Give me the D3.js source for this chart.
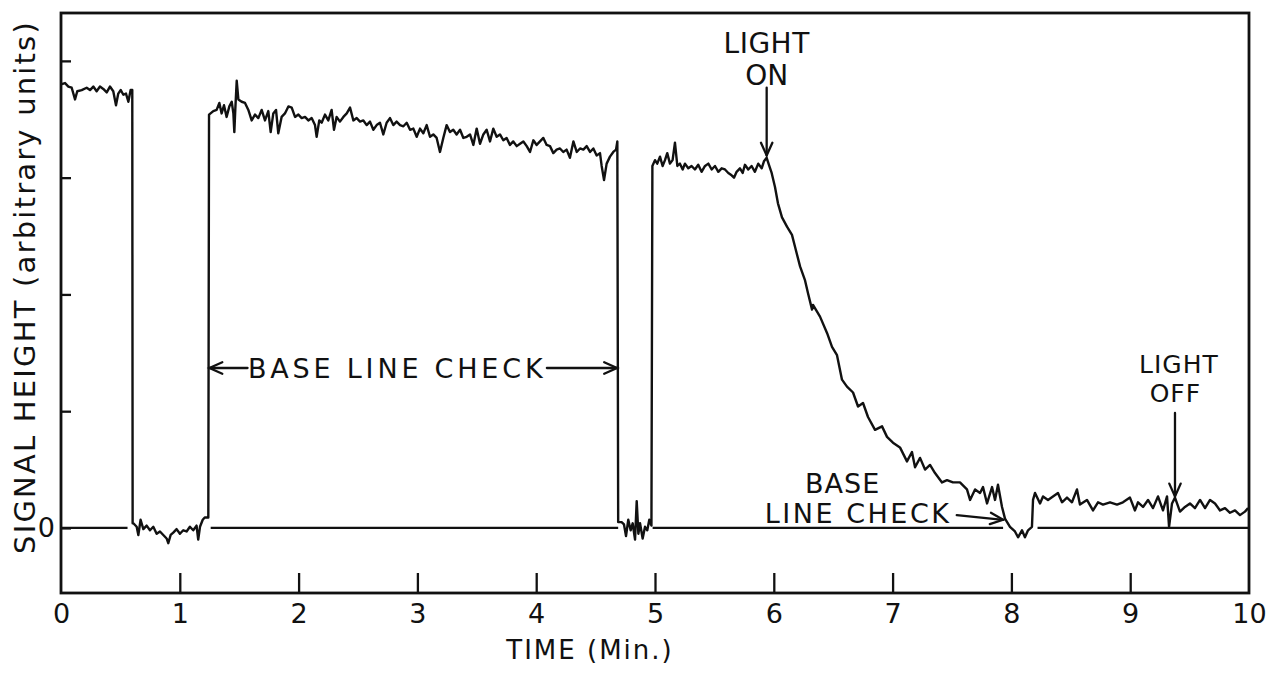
<!DOCTYPE html>
<html>
<head>
<meta charset="utf-8">
<style>
  html, body { margin: 0; padding: 0; background: #fff; }
  svg { display: block; }
  text { font-family: "DejaVu Sans", sans-serif; fill: #111; }
</style>
</head>
<body>
<svg id="chart" width="1272" height="676"></svg>
<script src="https://cdn.jsdelivr.net/npm/d3@7"></script>
<script>
// Recorder trace. Time in minutes, signal in
// the chart's arbitrary units (one y tick = 1 unit).
var timeMin = [
  // light off, full signal
  0.006, 0.034, 0.062, 0.090, 0.118, 0.137, 0.174, 0.216, 0.244, 0.272,
  0.300, 0.328, 0.356, 0.385, 0.412, 0.440, 0.463, 0.482, 0.503, 0.525,
  0.547, 0.567, 0.586, 0.600,
  // first base line check
  0.603, 0.609, 0.637, 0.651, 0.670, 0.693, 0.721, 0.749, 0.777, 0.805,
  0.833, 0.861, 0.889, 0.903, 0.923, 0.945, 0.973, 1.001, 1.029, 1.057,
  1.085, 1.113, 1.141, 1.155, 1.170, 1.193, 1.210, 1.240,
  // slow drift down
  1.246, 1.282, 1.310, 1.333, 1.352, 1.372, 1.394, 1.417, 1.437, 1.451,
  1.459, 1.467, 1.479, 1.493, 1.521, 1.549, 1.577, 1.605, 1.633, 1.661,
  1.689, 1.717, 1.745, 1.765, 1.787, 1.810, 1.829, 1.857, 1.885, 1.914,
  1.942, 1.970, 1.998, 2.026, 2.054, 2.082, 2.110, 2.138, 2.152, 2.174,
  2.194, 2.222, 2.250, 2.278, 2.298, 2.320, 2.348, 2.377, 2.405, 2.433,
  2.461, 2.489, 2.517, 2.545, 2.573, 2.601, 2.629, 2.657, 2.685, 2.713,
  2.741, 2.769, 2.797, 2.825, 2.854, 2.882, 2.910, 2.938, 2.966, 2.994,
  3.022, 3.050, 3.078, 3.106, 3.134, 3.162, 3.190, 3.218, 3.246, 3.274,
  3.302, 3.330, 3.359, 3.387, 3.415, 3.443, 3.471, 3.499, 3.527, 3.555,
  3.583, 3.611, 3.639, 3.667, 3.695, 3.723, 3.751, 3.779, 3.807, 3.836,
  3.864, 3.892, 3.920, 3.948, 3.976, 4.004, 4.032, 4.060, 4.088, 4.116,
  4.144, 4.172, 4.200, 4.228, 4.256, 4.284, 4.313, 4.341, 4.369, 4.397,
  4.425, 4.453, 4.481, 4.509, 4.537, 4.551, 4.571, 4.593, 4.621, 4.649,
  4.672, 4.683,
  // second base line check
  4.690, 4.719, 4.739, 4.756, 4.775, 4.795, 4.812, 4.832, 4.846, 4.860,
  4.874, 4.896, 4.916, 4.935, 4.952, 4.970,
  // before light on
  4.978, 5.000, 5.019, 5.042, 5.064, 5.084, 5.103, 5.126, 5.148, 5.168,
  5.188, 5.210, 5.233, 5.252, 5.280, 5.308, 5.336, 5.364, 5.392, 5.421,
  5.449, 5.477, 5.505, 5.533, 5.561, 5.589, 5.617, 5.645, 5.665, 5.687,
  5.715, 5.738, 5.757, 5.785, 5.813, 5.841, 5.869, 5.898, 5.917, 5.940,
  5.962, 5.982, 6.010,
  // light on, decay
  6.035, 6.069, 6.111, 6.153, 6.178, 6.221, 6.263, 6.288, 6.322, 6.330,
  6.389, 6.448, 6.490, 6.532, 6.574, 6.616, 6.667, 6.709, 6.751, 6.793,
  6.852, 6.911, 6.953, 7.003, 7.062, 7.121, 7.163, 7.189, 7.231, 7.273,
  7.315, 7.357, 7.416, 7.458, 7.508, 7.567, 7.626, 7.652, 7.694, 7.736,
  7.761, 7.795, 7.837, 7.862, 7.887, 7.921, 7.946,
  // third base line check
  7.988, 8.030, 8.056, 8.089, 8.114, 8.140, 8.173,
  // tail
  8.182, 8.199, 8.241, 8.266, 8.308, 8.350, 8.392, 8.426, 8.468, 8.510,
  8.552, 8.577, 8.636, 8.687, 8.729, 8.771, 8.830, 8.889, 8.939, 8.998,
  9.040, 9.066, 9.108, 9.150, 9.192, 9.234, 9.276, 9.310, 9.327, 9.352,
  9.377, 9.419, 9.461, 9.503, 9.545, 9.588, 9.630, 9.672, 9.714, 9.756,
  9.798, 9.840, 9.882, 9.924, 9.966, 9.992
];

var signal = [
  3.80, 3.81, 3.78, 3.77, 3.67, 3.74, 3.75, 3.77, 3.75, 3.78,
  3.74, 3.78, 3.76, 3.73, 3.78, 3.74, 3.62, 3.72, 3.75, 3.71,
  3.72, 3.65, 3.75, 3.75,

  0.04, 0.04, 0.01, -0.06, 0.07, -0.01, 0.02, -0.02, 0.01, -0.05,
  -0.03, -0.06, -0.09, -0.13, -0.06, -0.04, -0.01, -0.05, -0.02, -0.03,
  0.01, -0.02, 0.02, -0.10, 0.01, 0.07, 0.09, 0.09,

  3.54, 3.57, 3.58, 3.64, 3.55, 3.62, 3.52, 3.61, 3.65, 3.55,
  3.39, 3.58, 3.83, 3.67, 3.65, 3.64, 3.58, 3.49, 3.54, 3.51,
  3.58, 3.49, 3.57, 3.39, 3.55, 3.58, 3.38, 3.52, 3.55, 3.61,
  3.60, 3.52, 3.54, 3.51, 3.52, 3.49, 3.51, 3.45, 3.35, 3.49,
  3.47, 3.54, 3.49, 3.58, 3.41, 3.52, 3.48, 3.52, 3.55, 3.60,
  3.49, 3.51, 3.48, 3.49, 3.45, 3.48, 3.41, 3.45, 3.47, 3.37,
  3.47, 3.51, 3.45, 3.48, 3.45, 3.44, 3.47, 3.41, 3.42, 3.35,
  3.42, 3.38, 3.45, 3.35, 3.37, 3.34, 3.22, 3.34, 3.45, 3.39,
  3.41, 3.37, 3.41, 3.34, 3.35, 3.37, 3.28, 3.42, 3.29, 3.37,
  3.41, 3.31, 3.42, 3.35, 3.37, 3.32, 3.34, 3.28, 3.31, 3.27,
  3.29, 3.31, 3.27, 3.22, 3.32, 3.28, 3.31, 3.34, 3.28, 3.27,
  3.21, 3.24, 3.25, 3.22, 3.24, 3.17, 3.31, 3.22, 3.25, 3.24,
  3.27, 3.22, 3.25, 3.19, 3.21, 3.10, 2.98, 3.12, 3.18, 3.22,
  3.24, 3.31,

  0.05, 0.05, 0.03, -0.07, 0.07, -0.02, 0.04, -0.10, 0.23, -0.05,
  0.04, -0.09, 0.01, -0.02, 0.07, 0.02,

  3.10, 3.15, 3.12, 3.18, 3.10, 3.15, 3.21, 3.12, 3.15, 3.30,
  3.10, 3.12, 3.07, 3.12, 3.08, 3.10, 3.07, 3.11, 3.05, 3.10,
  3.12, 3.07, 3.10, 3.05, 3.08, 3.07, 3.04, 3.02, 3.00, 3.05,
  3.08, 3.04, 3.11, 3.07, 3.10, 3.05, 3.12, 3.08, 3.14, 3.17,
  3.10, 3.04, 2.92,

  2.78, 2.66, 2.58, 2.51, 2.41, 2.24, 2.12, 2.01, 1.87, 1.91,
  1.81, 1.67, 1.55, 1.48, 1.27, 1.21, 1.16, 1.04, 1.07, 0.95,
  0.84, 0.87, 0.78, 0.73, 0.69, 0.57, 0.65, 0.52, 0.60, 0.50,
  0.54, 0.47, 0.39, 0.41, 0.39, 0.39, 0.33, 0.24, 0.33, 0.30,
  0.35, 0.21, 0.35, 0.24, 0.37, 0.18, 0.08,

  0.01, -0.03, -0.08, -0.02, -0.08, -0.02, 0.01,

  0.24, 0.30, 0.21, 0.27, 0.24, 0.27, 0.30, 0.22, 0.26, 0.22,
  0.33, 0.20, 0.24, 0.15, 0.22, 0.20, 0.22, 0.20, 0.22, 0.26,
  0.15, 0.22, 0.18, 0.24, 0.17, 0.27, 0.15, 0.27, 0.01, 0.21,
  0.26, 0.14, 0.18, 0.21, 0.17, 0.24, 0.17, 0.24, 0.21, 0.15,
  0.17, 0.13, 0.15, 0.11, 0.14, 0.17
];

// zero reference line, drawn in pieces (gaps where the pen sat on it)
var baseStart = [0, 1.26, 4.98, 8.22];
var baseEnd = [0.56, 4.69, 7.93, 10];

var xTicks = [0, 1, 2, 3, 4, 5, 6, 7, 8, 9, 10];
var yTicks = [0, 1, 2, 3, 4];
var yTickLabels = ['0', '', '', '', ''];

var svg = d3.select('#chart');

var x = d3.scaleLinear().domain([0, 10]).range([61, 1249]);
var y = d3.scaleLinear().domain([-0.557, 4.41]).range([593, 13]);

// zero line
svg.append('g').selectAll('line')
    .data(baseStart)
    .enter().append('line')
    .attr('x1', function (d) { return x(d); })
    .attr('x2', function (d, i) { return x(baseEnd[i]); })
    .attr('y1', y(0)).attr('y2', y(0))
    .attr('stroke', '#111').attr('stroke-width', 2.3);

// trace
var pts = timeMin.map(function (t, i) { return [t, signal[i]]; });
svg.append('path')
    .datum(pts)
    .attr('fill', 'none')
    .attr('stroke', '#111')
    .attr('stroke-width', 2.4)
    .attr('stroke-linejoin', 'round')
    .attr('d', d3.line().x(function (d) { return x(d[0]); }).y(function (d) { return y(d[1]); }));

// axes, ticks pointing inward
var xAxis = svg.append('g')
    .attr('transform', 'translate(0,' + y.range()[0] + ')')
    .call(d3.axisBottom(x).tickValues(xTicks).tickSize(-20).tickPadding(11)
        .tickFormat(function (d) { return String(d); }));
var yAxis = svg.append('g')
    .attr('transform', 'translate(' + x.range()[0] + ',0)')
    .call(d3.axisLeft(y).tickValues(yTicks).tickSize(-10).tickPadding(6)
        .tickFormat(function (d, i) { return yTickLabels[i]; }));

[xAxis, yAxis].forEach(function (a) {
  a.select('.domain').remove();
  a.selectAll('.tick line').attr('stroke', '#111').attr('stroke-width', 2.3);
  a.selectAll('.tick text').attr('font-size', 27).attr('fill', '#111')
      .style('font-family', '"DejaVu Sans", sans-serif');
});
xAxis.selectAll('.tick').filter(function (d) { return d === 0 || d === 10; })
    .select('line').remove();

// frame
svg.append('rect')
    .attr('x', x(0)).attr('y', y(4.41))
    .attr('width', x(10) - x(0)).attr('height', y(-0.557) - y(4.41))
    .attr('fill', 'none').attr('stroke', '#111').attr('stroke-width', 2.8);

// axis titles
svg.append('text')
    .attr('x', 590).attr('y', 659)
    .attr('text-anchor', 'middle').attr('font-size', 26)
    .attr('letter-spacing', 2)
    .text('TIME (Min.)');
svg.append('text')
    .attr('transform', 'translate(35,287) rotate(-90)')
    .attr('text-anchor', 'middle').attr('font-size', 29)
    .attr('letter-spacing', 2.2)
    .text('SIGNAL HEIGHT (arbitrary units)');

// annotations
function label(t, v, s, size, spacing) {
  svg.append('text')
      .attr('x', x(t)).attr('y', y(v))
      .attr('text-anchor', 'middle').attr('font-size', size)
      .attr('letter-spacing', spacing || 0)
      .text(s);
}

function arrow(t1, v1, t2, v2) {
  var x1 = x(t1), y1 = y(v1), x2 = x(t2), y2 = y(v2);
  var a = Math.atan2(y2 - y1, x2 - x1), h = 14, w = 0.42;
  var g = svg.append('g').attr('stroke', '#111').attr('stroke-width', 2.3)
      .attr('fill', 'none').attr('stroke-linecap', 'round');
  g.append('line').attr('x1', x1).attr('y1', y1).attr('x2', x2).attr('y2', y2);
  g.append('path').attr('d',
      'M' + (x2 - h * Math.cos(a - w)) + ',' + (y2 - h * Math.sin(a - w)) +
      'L' + x2 + ',' + y2 +
      'L' + (x2 - h * Math.cos(a + w)) + ',' + (y2 - h * Math.sin(a + w)));
}

label(5.94, 4.07, 'LIGHT', 28, 0.5);
label(5.94, 3.79, 'ON', 28, 0);
arrow(5.94, 3.77, 5.94, 3.19);

label(9.41, 1.33, 'LIGHT', 25, 1);
label(9.38, 1.075, 'OFF', 25, 1);
arrow(9.377, 0.985, 9.377, 0.27);

label(2.83, 1.285, 'BASE LINE CHECK', 27, 3.8);
arrow(1.57, 1.37, 1.25, 1.37);
arrow(4.09, 1.37, 4.68, 1.37);

label(6.58, 0.30, 'BASE', 27, 1);
label(6.71, 0.043, 'LINE CHECK', 27, 2.5);
arrow(7.54, 0.11, 7.93, 0.07);
</script>
</body>
</html>
